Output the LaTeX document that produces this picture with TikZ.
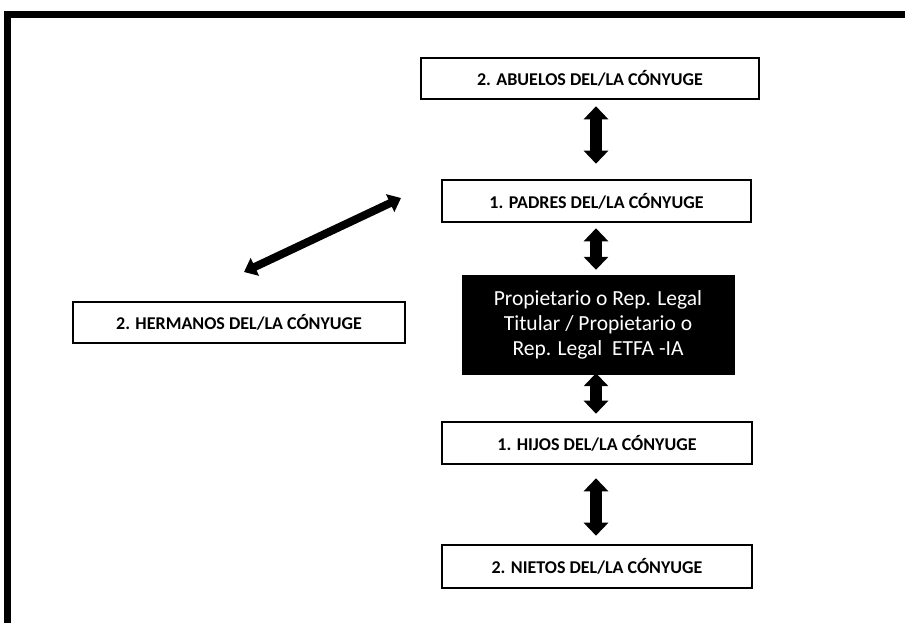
\documentclass[tikz,border=0pt]{standalone}
\usepackage{fontspec}
\setmainfont{Carlito}
\usetikzlibrary{arrows.meta}
\tikzset{
  box/.style={draw=black, line width=2.6pt, fill=white, inner sep=0pt,
    font=\fontsize{18}{20}\selectfont\bfseries},
  darkbox/.style={draw=black, fill=black, text=white, inner sep=0pt, align=center,
    font=\fontsize{21.5}{25}\selectfont},
  dbl/.style={line width=12pt, {Triangle[width=24pt,length=13pt]}-{Triangle[width=24pt,length=13pt]}},
  dbldiag/.style={line width=8pt, {Triangle[width=19pt,length=12pt]}-{Triangle[width=19pt,length=12pt]}},
  frame/.style={line width=7pt, line cap=rect}
}
\begin{document}
\begin{tikzpicture}[x=1pt,y=-1pt]
\useasboundingbox (0,0) rectangle (905,623);
\fill[white] (0,0) rectangle (905,623);
% outer frame (top and left visible)
\draw[frame] (7,623) -- (7,15) -- (912,15);
% boxes
\node[box, minimum width=338, minimum height=41] (abu) at (590,78.5) {2. ABUELOS DEL/LA CÓNYUGE};
\node[box, minimum width=309, minimum height=42] (pad) at (596.5,201) {1. PADRES DEL/LA CÓNYUGE};
\node[darkbox, minimum width=272, minimum height=99] (tit) at (598,324.5) {Propietario o Rep. Legal\\Titular / Propietario o\\Rep. Legal\ \ ETFA -IA};
\node[box, minimum width=310, minimum height=42] (hij) at (597,443) {1. HIJOS DEL/LA CÓNYUGE};
\node[box, minimum width=310, minimum height=43] (nie) at (597,566.5) {2. NIETOS DEL/LA CÓNYUGE};
\node[box, minimum width=332, minimum height=41] (her) at (239,322.5) {2. HERMANOS DEL/LA CÓNYUGE};
% connectors
\coordinate (x0) at (596,0);
\draw[dbl, shorten <=6pt, shorten >=15pt] (x0 |- abu.south) -- (x0 |- pad.north);
\draw[dbl, shorten <=5pt, shorten >=5pt] (x0 |- pad.south) -- (x0 |- tit.north);
\draw[dbl, shorten <=-1pt, shorten >=7pt] (x0 |- tit.south) -- (x0 |- hij.north);
\draw[dbl, shorten <=13pt, shorten >=8pt] (x0 |- hij.south) -- (x0 |- nie.north);
\coordinate (dl) at (244,272);
\coordinate (dr) at (401,198);
\draw[dbldiag] (dl) -- (dr);
\end{tikzpicture}
\end{document}
